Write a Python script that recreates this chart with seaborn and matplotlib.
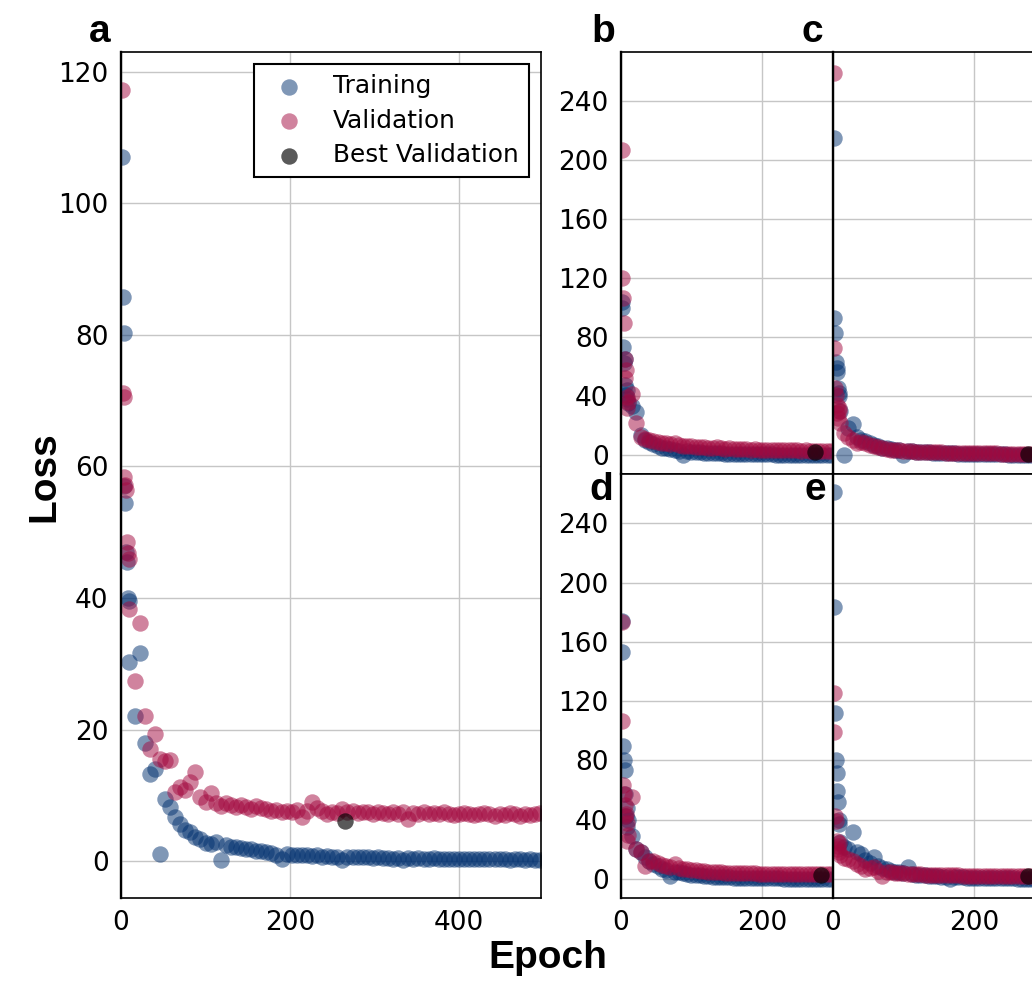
import matplotlib
matplotlib.use("Agg")
import matplotlib.pyplot as plt
import seaborn as sns

# ---------------- data ----------------
early = [1, 2, 3, 4, 5, 6, 7, 8, 9]
epochs_a = early + list(range(10, 497, 6))
epochs_s = early + list(range(10, 299, 6))

train_a = [107.0, 85.7, 80.3, 57.0, 54.5, 47.0, 45.5, 40.0, 39.5,
           30.3, 22.1, 31.6, 17.9, 13.2, 14.0, 1.1, 9.4, 8.3, 6.7,
           5.7, 4.7, 4.5, 3.7, 3.3, 2.7, 2.6, 2.9, 0.2, 2.4,
           2.2, 2.1, 2.0, 1.9, 1.8, 1.6, 1.5, 1.4, 1.2, 1.0,
           0.4, 1.1, 1.0, 1.0, 0.9, 1.0, 0.8, 0.9, 0.7, 0.8,
           0.7, 0.6, 0.2, 0.7, 0.6, 0.7, 0.6, 0.6, 0.5, 0.6,
           0.5, 0.5, 0.4, 0.5, 0.2, 0.5, 0.4, 0.5, 0.4, 0.4,
           0.5, 0.4, 0.4, 0.3, 0.4, 0.4, 0.3, 0.4, 0.3, 0.3,
           0.4, 0.3, 0.3, 0.3, 0.3, 0.2, 0.3, 0.3, 0.2, 0.3,
           0.2, 0.2]
val_a = [117.2, 71.1, 70.6, 58.4, 57.2, 56.4, 48.5, 46.8, 45.9,
         38.3, 27.4, 36.2, 22.1, 17.1, 19.4, 15.6, 15.2, 15.4, 10.5,
         11.3, 10.8, 12.1, 13.6, 9.8, 9.0, 10.3, 8.8, 8.4, 8.9,
         8.5, 8.3, 8.6, 8.2, 8.0, 8.4, 8.1, 7.9, 7.6, 7.8,
         7.5, 7.7, 7.4, 7.8, 6.7, 7.6, 9.0, 8.1, 7.6, 7.2,
         7.5, 7.3, 7.9, 7.4, 7.6, 7.3, 7.5, 7.4, 7.2, 7.5,
         7.3, 7.1, 7.4, 7.2, 7.5, 6.4, 7.3, 7.2, 7.4, 7.1,
         7.3, 7.2, 7.4, 7.1, 7.0, 7.2, 7.3, 7.1, 7.0, 7.2,
         7.3, 7.1, 6.9, 7.2, 7.0, 7.3, 7.1, 6.9, 7.2, 7.0,
         7.1, 7.3]
best_a = (265, 6.1)

train_b = [104.0, 99.6, 73.6, 62.7, 65.0, 47.6, 40.5, 44.0, 38.0,
           35.0, 33.0, 29.5, 13.8, 10.5, 9.0, 7.5, 6.0, 5.0, 4.5,
           4.0, 3.5, 3.0, 0.0, 2.5, 2.2, 2.0, 1.8, 1.6, 1.5,
           1.3, 1.2, 1.1, 1.0, 0.9, 0.9, 0.8, 0.8, 0.7, 0.7,
           0.6, 0.6, 0.5, 0.5, 0.5, 0.4, 0.4, 0.4, 0.3, 0.3,
           0.3, 0.3, 0.2, 0.2, 0.2, 0.2, 0.2, 0.1, 0.1]
val_b = [206.8, 119.9, 106.8, 89.4, 65.0, 52.2, 58.0, 31.8, 39.7,
         36.0, 41.5, 22.1, 12.0, 11.0, 10.0, 9.5, 9.0, 8.5, 8.0,
         7.5, 8.5, 7.0, 6.5, 6.2, 6.0, 5.5, 5.8, 5.2, 5.0,
         4.8, 5.3, 4.6, 4.4, 4.5, 4.2, 4.0, 4.3, 3.9, 3.8,
         4.0, 3.7, 3.6, 3.8, 3.5, 3.4, 3.6, 3.3, 3.4, 3.2,
         3.3, 3.1, 3.2, 3.0, 3.1, 3.0, 2.9, 3.1, 3.0]
best_b = (276, 2.0)

train_c = [215.2, 92.8, 82.6, 63.4, 58.9, 56.6, 45.4, 42.0, 40.0,
           30.0, 0.2, 18.3, 21.2, 12.0, 10.5, 9.5, 8.0, 7.0, 6.0,
           5.0, 4.5, 4.0, 3.5, 3.2, 0.0, 2.8, 2.5, 2.3, 2.0,
           1.9, 1.8, 1.6, 1.5, 1.4, 1.3, 1.2, 1.1, 1.0, 1.0,
           0.9, 0.8, 0.8, 0.7, 0.7, 0.6, 0.6, 0.5, 0.5, 0.5,
           0.4, 0.4, 0.4, 0.3, 0.3, 0.3, 0.3, 0.2, 0.2]
val_c = [258.8, 72.5, 45.4, 40.9, 34.1, 28.4, 25.0, 30.0, 32.0,
         22.0, 14.9, 12.6, 10.0, 8.1, 9.0, 8.0, 7.0, 6.0, 5.5,
         4.5, 4.0, 3.8, 3.5, 3.2, 3.0, 2.8, 2.6, 2.4, 2.3,
         2.2, 2.0, 1.9, 1.8, 1.8, 1.7, 1.6, 1.5, 1.5, 1.4,
         1.4, 1.3, 1.3, 1.2, 1.2, 1.1, 1.1, 1.1, 1.0, 1.0,
         1.0, 0.9, 0.9, 0.9, 0.9, 0.8, 0.9, 0.8, 0.8]
best_c = (277, 0.9)

train_d = [174.0, 153.4, 89.8, 80.1, 73.3, 57.5, 42.8, 35.0, 48.0,
           40.0, 29.3, 20.3, 18.0, 15.0, 12.0, 10.0, 8.5, 7.0, 6.0,
           1.8, 5.0, 4.5, 4.0, 3.5, 3.0, 2.7, 2.4, 2.1, 1.9,
           1.7, 1.5, 1.4, 1.2, 1.1, 1.0, 0.9, 0.8, 0.8, 0.7,
           0.6, 0.6, 0.5, 0.5, 0.4, 0.4, 0.4, 0.3, 0.3, 0.3,
           0.3, 0.2, 0.2, 0.2, 0.2, 0.1, 0.1, 0.1, 0.1]
val_d = [173.2, 106.7, 63.1, 57.5, 49.6, 42.8, 44.0, 25.9, 38.0,
         30.0, 55.3, 20.3, 18.0, 9.0, 12.4, 12.0, 11.0, 9.5, 8.5,
         7.9, 10.1, 7.5, 7.0, 6.5, 6.2, 5.8, 5.6, 5.3, 5.0,
         4.9, 4.7, 4.6, 4.4, 4.3, 4.2, 4.1, 4.0, 3.9, 3.9,
         3.8, 3.7, 3.7, 3.6, 3.6, 3.5, 3.5, 3.4, 3.4, 3.4,
         3.3, 3.3, 3.3, 3.2, 3.2, 3.2, 3.1, 3.1, 3.1]
best_d = (284, 2.9)

train_e = [261.2, 183.8, 112.1, 80.1, 71.7, 59.7, 51.9, 37.2, 40.0,
           25.0, 21.4, 20.0, 31.6, 18.0, 16.9, 13.0, 11.0, 14.6, 9.0,
           7.5, 6.5, 5.5, 5.0, 4.5, 4.0, 7.9, 3.5, 3.0, 2.7,
           2.5, 2.2, 2.0, 1.8, 1.6, 1.5, 0.3, 1.3, 1.2, 1.1,
           1.0, 0.9, 0.8, 0.8, 0.7, 0.6, 0.6, 0.5, 0.5, 0.5,
           0.4, 0.4, 0.3, 0.3, 0.3, 0.3, 0.2, 0.2, 0.2]
val_e = [125.8, 99.3, 42.8, 39.4, 25.9, 20.3, 22.0, 18.0, 24.0,
         16.0, 14.0, 13.5, 12.0, 10.0, 9.0, 6.8, 7.5, 8.0, 5.5,
         2.3, 5.0, 4.5, 4.2, 4.0, 3.8, 3.6, 3.4, 3.3, 3.1,
         3.0, 2.9, 2.8, 2.7, 2.6, 2.6, 2.5, 2.4, 2.4, 2.3,
         2.3, 2.2, 2.2, 2.1, 2.1, 2.1, 2.0, 2.0, 2.0, 1.9,
         1.9, 1.9, 1.9, 1.8, 1.8, 1.8, 1.8, 1.7, 1.7]
best_e = (277, 1.8)

labels = ["Training", "Validation", "Best Validation"]
yticks_a = [0, 20, 40, 60, 80, 100, 120]
yticks_s = [0, 40, 80, 120, 160, 200, 240]
xticks_a = [0, 200, 400]
xticks_s = [0, 200]

# ---------------- style ----------------
sns.set_style("white")
plt.rcParams["font.family"] = ["DejaVu Sans"]
plt.rcParams["text.color"] = "black"
plt.rcParams["axes.labelcolor"] = "black"
plt.rcParams["xtick.color"] = "black"
plt.rcParams["ytick.color"] = "black"
plt.rcParams["legend.labelcolor"] = "black"
C_TRAIN = "#01306f"
C_VAL = "#a3093f"
C_BEST = "black"
S = 140

W, H = 1032, 981
fig = plt.figure(figsize=(W / 100, H / 100), dpi=100)


def rect(l, t, r, b):
    return [l / W, 1 - b / H, (r - l) / W, (b - t) / H]


ax_a = fig.add_axes(rect(121, 52, 541, 898))
ax_b = fig.add_axes(rect(621, 52, 833, 474))
ax_c = fig.add_axes(rect(833, 52, 1045, 474))
ax_d = fig.add_axes(rect(621, 474, 833, 898))
ax_e = fig.add_axes(rect(833, 474, 1045, 898))

panels = [
    (ax_a, epochs_a, train_a, val_a, best_a),
    (ax_b, epochs_s, train_b, val_b, best_b),
    (ax_c, epochs_s, train_c, val_c, best_c),
    (ax_d, epochs_s, train_d, val_d, best_d),
    (ax_e, epochs_s, train_e, val_e, best_e),
]

for ax, ep, tr, va, best in panels:
    ax.set_axisbelow(True)
    ax.grid(True, color="#c6c6c6", linewidth=1.0)
    sns.scatterplot(x=ep, y=tr, ax=ax, color=C_TRAIN, s=S, alpha=0.5,
                    linewidth=0, label=labels[0], legend=False)
    sns.scatterplot(x=ep, y=va, ax=ax, color=C_VAL, s=S, alpha=0.5,
                    linewidth=0, label=labels[1], legend=False)
    sns.scatterplot(x=[best[0]], y=[best[1]], ax=ax, color=C_BEST, s=S,
                    alpha=0.65, linewidth=0, label=labels[2], legend=False)
    ax.tick_params(direction="in", length=5, width=1.1, labelsize=19,
                   pad=9, colors="black", labelcolor="black")
    for sp in ax.spines.values():
        sp.set_color("black")
        sp.set_linewidth(1.2)
    ax.spines["left"].set_linewidth(1.7)
    ax.set_xlabel("")
    ax.set_ylabel("")

ax_a.set_xlim(0, 497)
ax_a.set_ylim(-5.6, 123.0)
ax_a.set_xticks(xticks_a)
ax_a.set_yticks(yticks_a)

for ax in (ax_b, ax_c, ax_d, ax_e):
    ax.set_xlim(0, 301)
    ax.set_ylim(-12.8, 273.2)
    ax.set_xticks(xticks_s)
    ax.set_yticks(yticks_s)
for ax in (ax_b, ax_c):
    ax.tick_params(labelbottom=False)
for ax in (ax_c, ax_e):
    ax.tick_params(labelleft=False)

leg = ax_a.legend(loc="upper right", fontsize=17.8, frameon=True,
                  fancybox=False, framealpha=1, edgecolor="black",
                  labelcolor="black", labelspacing=0.42)
leg.get_frame().set_linewidth(1.5)

bold = dict(family=["Liberation Sans", "DejaVu Sans"], fontweight="bold",
            color="black")
fig.text(44 / W, 1 - 477 / H, "Loss", rotation=90, ha="center",
         va="center", fontsize=28, **bold)
fig.text(548 / W, 1 - 958 / H, "Epoch", ha="center", va="center",
         fontsize=28, **bold)
for lab, x, y in [("a", 110, 42), ("b", 615, 42), ("c", 823, 42),
                  ("d", 613, 500), ("e", 826, 500)]:
    fig.text(x / W, 1 - y / H, lab, ha="right", va="baseline",
             fontsize=28, **bold)

fig.savefig("out.png", dpi=100)
